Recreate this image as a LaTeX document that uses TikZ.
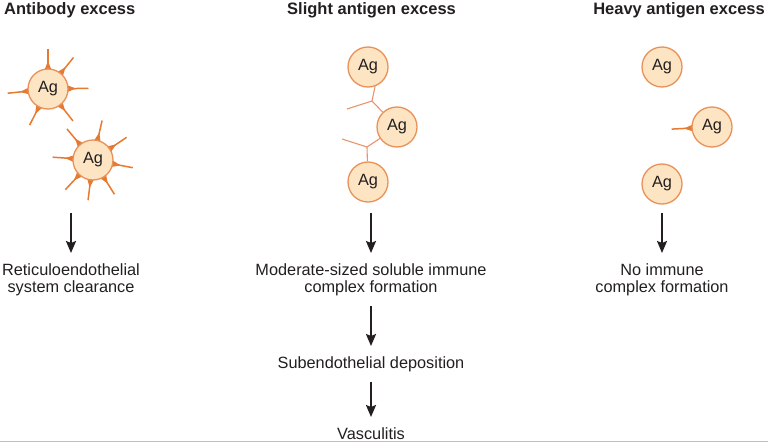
\documentclass[tikz,border=0pt]{standalone}
\usepackage{fontspec}
\setmainfont{Liberation Sans}
\usetikzlibrary{arrows.meta}

\definecolor{agfill}{HTML}{FDE4C2}
\definecolor{agline}{HTML}{E8925A}
\definecolor{spikecol}{HTML}{E57A30}
\definecolor{abcol}{HTML}{E8946C}
\definecolor{txtcol}{HTML}{231F20}

\newcommand\bodyfont{\fontsize{16.3}{17.5}\selectfont}
\newcommand\headfont{\fontsize{16.5}{18}\selectfont\bfseries}

\tikzset{
	ag/.style={circle, draw=agline, fill=agfill, line width=1.3pt,
		minimum size=40pt, inner sep=0pt, text=txtcol, font=\bodyfont},
	spike/.style={draw=spikecol, line width=1.5pt},
	antibody/.style={draw=abcol, line width=1.1pt},
	heading/.style={anchor=base west, inner sep=0pt, text=txtcol, font=\headfont},
	outcome/.style={align=center, inner xsep=0pt, inner ysep=10pt,
		anchor=north, text=txtcol, font=\bodyfont},
	arr/.style={draw=txtcol, line width=2pt,
		-{Stealth[length=12pt, width=10pt, inset=2pt]}},
}

\newcommand\spikes[2]{%
	\foreach \a in {#2} {
		\fill[spikecol] ([shift={(\a+11:19)}]#1) -- ([shift={(\a:28)}]#1)
			-- ([shift={(\a-11:19)}]#1) -- cycle;
		\draw[spike] ([shift={(\a:19)}]#1) -- ([shift={(\a:40.5)}]#1);
	}}

\begin{document}
\begin{tikzpicture}[x=1pt, y=1pt]
	\useasboundingbox (0,0) rectangle (768,-442);

	% headings
	\node[heading] (h1) at (4,-14) {Antibody excess};
	\node[heading] (h2) at (287,-14) {Slight antigen excess};
	\node[heading, anchor=base east] (h3) at (765,-14) {Heavy antigen excess};

	% antibody excess
	\coordinate (a1c) at (48,-89);
	\coordinate (a2c) at (93,-160);
	\spikes{a1c}{90,51,1,-52,-117,186}
	\spikes{a2c}{130,77,34,-11,-58,-97,-133,176}
	\node[ag] (a1) at (a1c) {Ag};
	\node[ag] (a2) at (a2c) {Ag};

	% slight antigen excess
	\node[ag] (m1) at (368,-67) {Ag};
	\node[ag] (m2) at (397,-127) {Ag};
	\node[ag] (m3) at (368,-182) {Ag};
	\coordinate (j1) at (372,-101);
	\coordinate (j1e) at (347,-109);
	\coordinate (j2) at (367,-147);
	\coordinate (j2e) at (342,-139);
	\draw[antibody] (m1.-70) -- (j1) -- (m2);
	\draw[antibody] (j1) -- (j1e);
	\draw[antibody] (m2) -- (j2) -- (m3);
	\draw[antibody] (j2) -- (j2e);

	% heavy antigen excess
	\coordinate (r2c) at (712,-127);
	\spikes{r2c}{183}
	\node[ag] (r1) at (662,-67) {Ag};
	\node[ag] (r2) at (r2c) {Ag};
	\node[ag] (r3) at (662,-184) {Ag};

	% outcomes
	\node[outcome] (lt) at (71,-253) {Reticuloendothelial\\system clearance};
	\node[outcome] (mt) at (371,-253) {Moderate-sized soluble immune\\complex formation};
	\node[outcome] (rt) at (662,-253) {No immune\\complex formation};
	\node[outcome] (st) at (371,-346) {Subendothelial deposition};
	\node[outcome] (vt) at (371,-417) {Vasculitis};

	\coordinate (la) at (71,-213);
	\coordinate (ma) at (371,-213);
	\coordinate (ra) at (662,-213);
	\draw[arr] (la) -- (lt);
	\draw[arr] (ma) -- (mt);
	\draw[arr] (ra) -- (rt);
	\draw[arr] (mt) -- (st);
	\draw[arr] (st) -- (vt);

	\draw[black!25, line width=1pt] (0,-441) -- (768,-441);
\end{tikzpicture}
\end{document}
